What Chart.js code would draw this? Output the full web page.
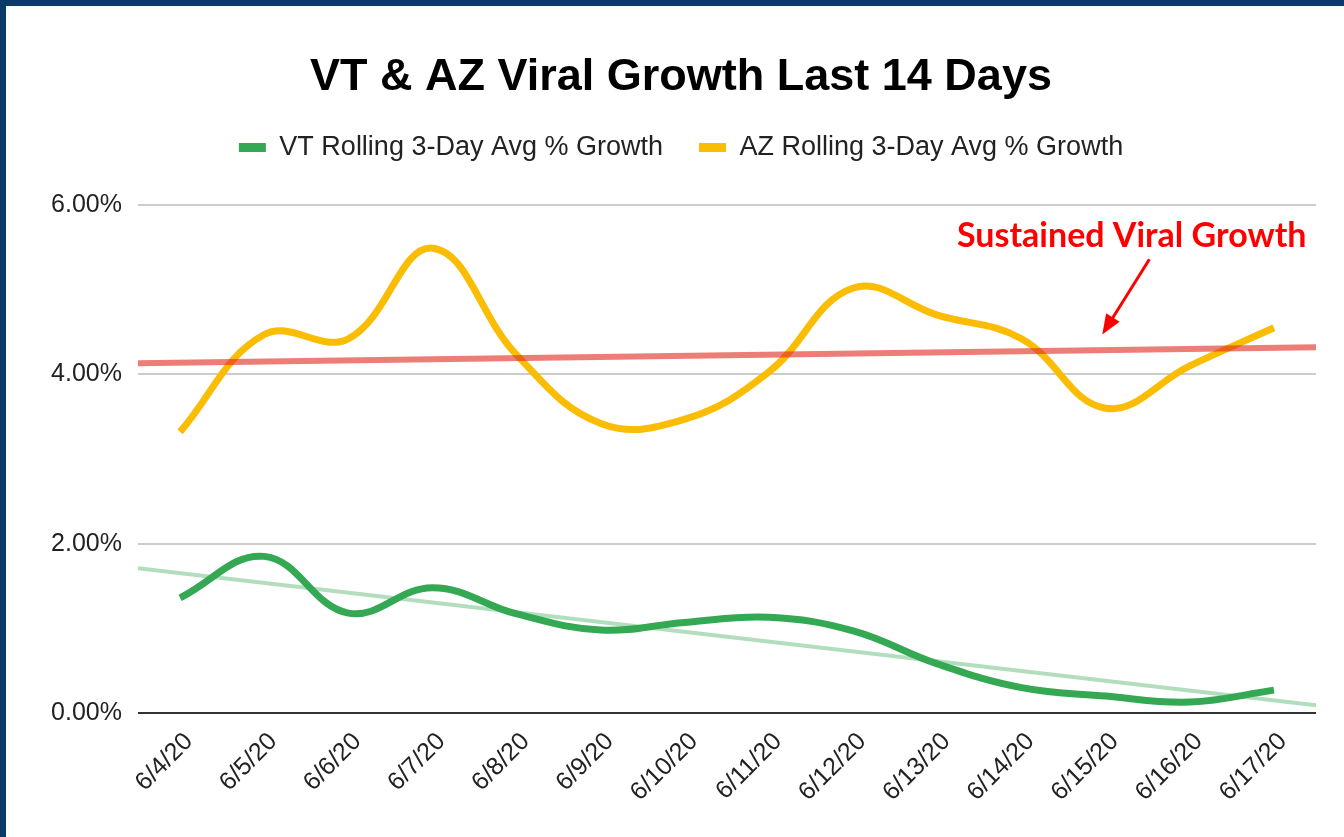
<!DOCTYPE html>
<html>
<head>
<meta charset="utf-8">
<script src="https://cdn.jsdelivr.net/npm/chart.js@4.4.0/dist/chart.umd.min.js"></script>
<style>
body { margin: 0; background: #0b3a66; }
#wrap { position: absolute; left: 6px; top: 6px; width: 1338px; height: 831px; background: #fff; }
</style>
</head>
<body>
<div id="wrap"><canvas id="growthChart" width="1338" height="831"></canvas></div>
<script>
// values (percent)
const dates = ['6/4/20', '6/5/20', '6/6/20', '6/7/20', '6/8/20', '6/9/20', '6/10/20',
	'6/11/20', '6/12/20', '6/13/20', '6/14/20', '6/15/20', '6/16/20', '6/17/20'];
const vtGrowth = [1.36, 1.85, 1.18, 1.48, 1.17, 0.98, 1.07, 1.13, 0.97, 0.58, 0.30, 0.20, 0.13, 0.27];
const azGrowth = [3.32, 4.47, 4.42, 5.49, 4.23, 3.42, 3.47, 4.03, 5.02, 4.70, 4.42, 3.60, 4.10, 4.55];
// trendlines run edge to edge of the plot, so they sit on a hidden linear axis
const trendEdges = [-0.5, 13.5];
const vtTrend = [1.71, 0.09];
const azTrend = [4.13, 4.32];
const yTicks = [0, 2, 4, 6];

const note = { text: 'Sustained Viral Growth', textAt: [11.31, 5.505], from: [11.52, 5.36], to: [10.96, 4.47] };

function toPoints(xs, ys) {
	return xs.map((x, i) => ({ x: x, y: ys[i] }));
}

// pushes the plot down below the legend
const legendGap = {
	id: 'legendGap',
	beforeInit(chart) {
		const fit = chart.legend.fit;
		chart.legend.fit = function() {
			fit.bind(chart.legend)();
			this.height += 34;
		};
	}
};

const arrowNote = {
	id: 'arrowNote',
	afterDatasetsDraw(chart) {
		const ctx = chart.ctx;
		const xs = chart.scales.x2;
		const ys = chart.scales.y;
		let x1 = xs.getPixelForValue(note.from[0]), y1 = ys.getPixelForValue(note.from[1]);
		let x2 = xs.getPixelForValue(note.to[0]), y2 = ys.getPixelForValue(note.to[1]);
		let ang = Math.atan2(y2 - y1, x2 - x1);
		let head = 20, half = 8;
		ctx.save();
		ctx.strokeStyle = '#ff0000';
		ctx.fillStyle = '#ff0000';
		ctx.lineWidth = 3;
		ctx.beginPath();
		ctx.moveTo(x1, y1);
		ctx.lineTo(x2 - Math.cos(ang) * head * 0.8, y2 - Math.sin(ang) * head * 0.8);
		ctx.stroke();
		ctx.beginPath();
		ctx.moveTo(x2, y2);
		ctx.lineTo(x2 - head * Math.cos(ang) + half * Math.sin(ang), y2 - head * Math.sin(ang) - half * Math.cos(ang));
		ctx.lineTo(x2 - head * Math.cos(ang) - half * Math.sin(ang), y2 - head * Math.sin(ang) + half * Math.cos(ang));
		ctx.closePath();
		ctx.fill();
		ctx.font = 'bold 34px Lato, "Open Sans", sans-serif';
		ctx.textAlign = 'center';
		ctx.textBaseline = 'alphabetic';
		ctx.fillText(note.text, xs.getPixelForValue(note.textAt[0]), ys.getPixelForValue(note.textAt[1]));
		ctx.restore();
	}
};

function drawGrowthChart() {
	let target = document.getElementById('growthChart');
	new Chart(target, {
		type: 'line',
		data: {
			labels: dates,
			datasets: [{
				label: 'VT Rolling 3-Day Avg % Growth',
				data: vtGrowth,
				borderColor: '#34a853',
				backgroundColor: '#34a853',
				borderWidth: 7,
				tension: 0.4,
				pointRadius: 0,
				order: 1
			}, {
				label: 'AZ Rolling 3-Day Avg % Growth',
				data: azGrowth,
				borderColor: '#fbbc04',
				backgroundColor: '#fbbc04',
				borderWidth: 7,
				tension: 0.4,
				pointRadius: 0,
				order: 2
			}, {
				label: 'VT trend',
				data: toPoints(trendEdges, vtTrend),
				xAxisID: 'x2',
				borderColor: 'rgba(52, 168, 83, 0.38)',
				borderWidth: 4,
				pointRadius: 0,
				order: 0
			}, {
				label: 'AZ trend',
				data: toPoints(trendEdges, azTrend),
				xAxisID: 'x2',
				borderColor: 'rgba(226, 45, 35, 0.62)',
				borderWidth: 6,
				pointRadius: 0,
				order: 0
			}]
		},
		plugins: [legendGap, arrowNote],
		options: {
			responsive: false,
			animation: false,
			layout: { padding: { left: 40, right: 28, top: 0, bottom: 0 } },
			plugins: {
				title: {
					display: true,
					text: 'VT & AZ Viral Growth Last 14 Days',
					color: '#000',
					font: { family: '"Liberation Sans", Arial, sans-serif', size: 45, weight: 'bold' },
					padding: { top: 45, bottom: -7 }
				},
				legend: {
					position: 'top',
					labels: {
						color: '#222',
						font: { family: '"Liberation Sans", Arial, sans-serif', size: 27 },
						boxWidth: 27,
						boxHeight: 9,
						padding: 36,
						generateLabels: function(chart) {
							return chart.data.datasets.slice(0, 2).map((ds, i) => ({
								text: ds.label,
								fillStyle: ds.borderColor,
								strokeStyle: ds.borderColor,
								lineWidth: 0,
								fontColor: '#222',
								datasetIndex: i
							}));
						}
					}
				},
				tooltip: { enabled: false }
			},
			scales: {
				x: {
					type: 'category',
					offset: true,
					grid: { display: false },
					border: { display: false },
					ticks: {
						color: '#222',
						font: { family: '"Liberation Sans", Arial, sans-serif', size: 25 },
						minRotation: 45,
						maxRotation: 45,
						autoSkip: false,
						padding: 6,
						labelOffset: 9
					},
					afterFit: function(scale) { scale.height = 124; }
				},
				x2: {
					type: 'linear',
					display: false,
					min: trendEdges[0],
					max: trendEdges[1]
				},
				y: {
					min: yTicks[0],
					max: yTicks[yTicks.length - 1],
					border: { display: false },
					grid: {
						drawTicks: false,
						lineWidth: 2,
						color: ctx => ctx.tick && ctx.tick.value === 0 ? '#333' : '#ccc'
					},
					ticks: {
						color: '#222',
						font: { family: '"Liberation Sans", Arial, sans-serif', size: 25 },
						padding: 16,
						callback: value => value.toFixed(2) + '%'
					},
					afterBuildTicks: function(scale) { scale.ticks = yTicks.map(v => ({ value: v })); },
					afterFit: function(scale) { scale.width = 92; }
				}
			}
		}
	});
}

drawGrowthChart();
</script>
</body>
</html>
